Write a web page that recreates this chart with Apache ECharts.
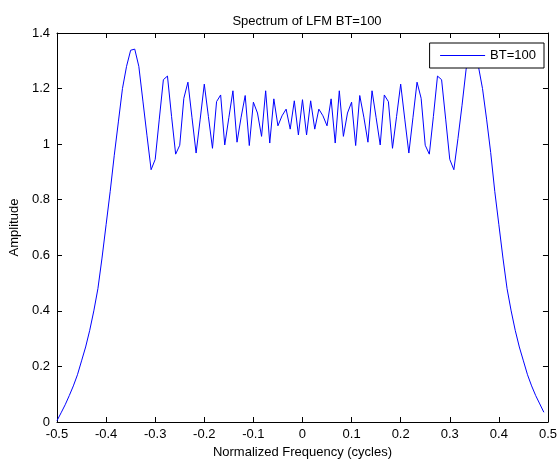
<!DOCTYPE html>
<html><head><meta charset="utf-8">
<script src="https://cdn.jsdelivr.net/npm/echarts@6/dist/echarts.min.js"></script>
<style>html,body{margin:0;padding:0;background:#fff}#c{width:560px;height:464px}</style>
</head><body><div id="c"></div>
<script>
// 120-point FFT grid: normalized frequency (k-60)/120, k = 0..119
const sampleCount = 120;
const seriesName = 'BT=100';
const amplitude = [
  0.005, 0.033, 0.062, 0.095, 0.13, 0.17, 0.22, 0.27, 0.33, 0.40,
  0.48, 0.59, 0.71, 0.83, 0.96, 1.08, 1.20, 1.28, 1.338, 1.342,
  1.28, 1.155, 1.03, 0.908, 0.945, 1.09, 1.232, 1.245, 1.10, 0.964,
  0.996, 1.165, 1.223, 1.095, 0.968, 1.09, 1.216, 1.10, 0.985, 1.153,
  1.177, 0.997, 1.095, 1.192, 1.007, 1.097, 1.175, 0.995, 1.151, 1.112,
  1.028, 1.192, 1.004, 1.163, 1.066, 1.102, 1.126, 1.054, 1.156, 1.033,
  1.16,
  1.033, 1.156, 1.054, 1.126, 1.102, 1.066, 1.163, 1.004, 1.192, 1.028,
  1.112, 1.151, 0.995, 1.175, 1.097, 1.007, 1.192, 1.095, 0.997, 1.177,
  1.153, 0.985, 1.10, 1.216, 1.09, 0.968, 1.095, 1.223, 1.165, 0.996,
  0.964, 1.10, 1.245, 1.232, 1.09, 0.945, 0.908, 1.02, 1.14, 1.27,
  1.342, 1.338, 1.28, 1.20, 1.09, 0.97, 0.83, 0.71, 0.59, 0.48,
  0.40, 0.33, 0.27, 0.22, 0.17, 0.13, 0.095, 0.065, 0.035
];
const xRange = [-0.5, 0.5, 0.1];
const yRange = [0, 1.4, 0.2];

const font = 'Liberation Sans, Arial, Helvetica, sans-serif';
const data = amplitude.map((v, k) => [(k - sampleCount / 2) / sampleCount, v]);

const chart = echarts.init(document.getElementById('c'), null, {renderer: 'canvas'});
const tickStyle = {show: true, inside: true, length: 5, lineStyle: {color: '#000', width: 1}};
const lineStyle = {show: true, onZero: false, lineStyle: {color: '#000', width: 1}};
chart.setOption({
  animation: false,
  backgroundColor: '#fff',
  title: {
    text: 'Spectrum of LFM BT=100',
    left: 302, top: 10, textAlign: 'center',
    textStyle: {fontFamily: font, fontSize: 13, fontWeight: 'normal', color: '#000'}
  },
  grid: {left: 56, right: 12, top: 33, bottom: 41, containLabel: false},
  legend: {
    data: [seriesName],
    right: 16, top: 43,
    itemWidth: 45, itemHeight: 12,
    itemStyle: {opacity: 0},
    lineStyle: {width: 1, color: '#0000ff'},
    backgroundColor: '#fff', borderColor: '#000', borderWidth: 1, borderRadius: 0,
    padding: [6, 8, 6, 10],
    textStyle: {fontFamily: font, fontSize: 13, color: '#000'}
  },
  xAxis: [{
    type: 'value', min: xRange[0], max: xRange[1], interval: xRange[2],
    position: 'bottom',
    name: 'Normalized Frequency (cycles)', nameLocation: 'middle', nameGap: 24,
    nameTextStyle: {fontFamily: font, fontSize: 13, color: '#000'},
    axisLine: lineStyle, axisTick: tickStyle,
    axisLabel: {fontFamily: font, fontSize: 13, color: '#000', margin: 6},
    splitLine: {show: false}
  }, {
    type: 'value', min: xRange[0], max: xRange[1], interval: xRange[2],
    position: 'top',
    axisLine: lineStyle, axisTick: tickStyle,
    axisLabel: {show: false}, splitLine: {show: false}
  }],
  yAxis: [{
    type: 'value', min: yRange[0], max: yRange[1], interval: yRange[2],
    position: 'left',
    name: 'Amplitude', nameLocation: 'middle', nameGap: 36, nameRotate: 90,
    nameTextStyle: {fontFamily: font, fontSize: 13, color: '#000'},
    axisLine: lineStyle, axisTick: tickStyle,
    axisLabel: {fontFamily: font, fontSize: 13, color: '#000', margin: 7},
    splitLine: {show: false}
  }, {
    type: 'value', min: yRange[0], max: yRange[1], interval: yRange[2],
    position: 'right',
    axisLine: lineStyle, axisTick: tickStyle,
    axisLabel: {show: false}, splitLine: {show: false}
  }],
  series: [{
    name: seriesName, type: 'line', data: data,
    xAxisIndex: 0, yAxisIndex: 0,
    symbol: 'none', showSymbol: false,
    lineStyle: {color: '#0000ff', width: 1},
    itemStyle: {color: '#0000ff'},
    z: 2
  }]
});
</script></body></html>
